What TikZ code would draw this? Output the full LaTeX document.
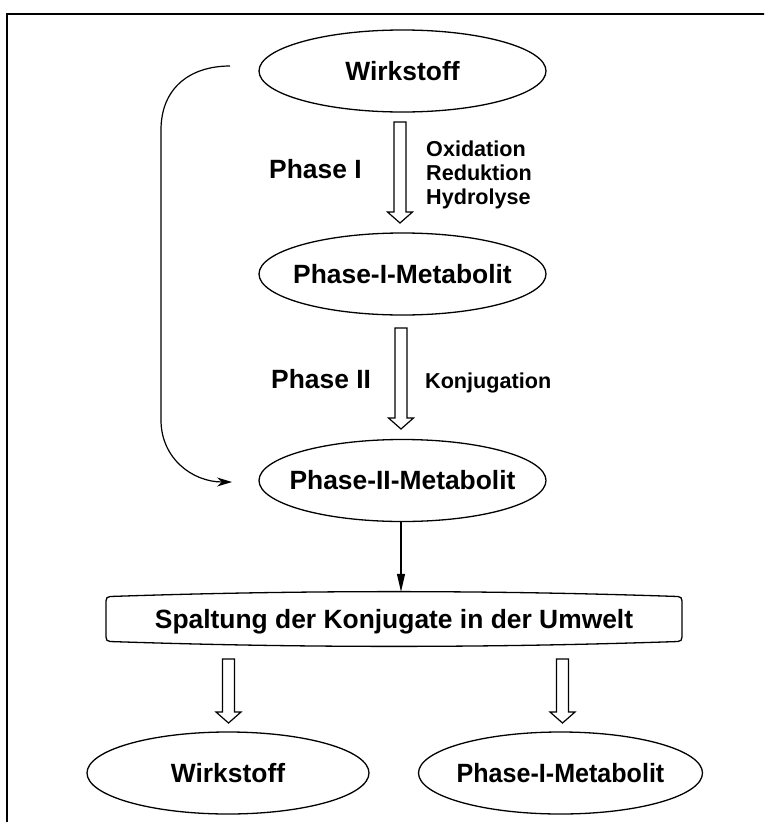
\documentclass[tikz,border=0pt]{standalone}
\usepackage{graphicx}
\usepackage{fontspec}
\setmainfont{Liberation Sans}
\usetikzlibrary{shapes.geometric,arrows.meta,calc}
\tikzset{
  ell/.style={ellipse, draw, line width=1.3pt, minimum width=287pt, minimum height=82pt,
    inner sep=0pt, text height=18pt, text depth=0pt, font=\bfseries\fontsize{26.4}{30}\selectfont},
  bigtxt/.style={font=\bfseries\fontsize{26.4}{30}\selectfont, inner sep=0pt, anchor=base west},
  smalltxt/.style={font=\bfseries\fontsize{21.6}{24}\selectfont, inner sep=0pt, anchor=base west},
  boxtxt/.style={minimum width=576pt, minimum height=54pt, inner sep=0pt, text height=18pt,
    text depth=0pt, font=\bfseries\fontsize{26.4}{30}\selectfont},
  blockline/.style={draw, line width=1.2pt, line join=miter},
  conn/.style={line width=1.2pt},
  frameline/.style={line width=2.6pt}
}
\newcommand\blockarrow[2]{%
  \draw[blockline] let \p1=(#1), \p2=(#2) in
    (\x1-6pt,\y1) -- (\x1+6pt,\y1) -- (\x1+6pt,\y2+11pt) -- (\x1+12.5pt,\y2+11pt)
    -- (\x1,\y2) -- (\x1-12.5pt,\y2+11pt) -- (\x1-6pt,\y2+11pt) -- cycle;}
\begin{document}
\begin{tikzpicture}[x=1pt,y=-1pt]
\useasboundingbox (0,0) rectangle (764,822);
\begin{scope}
  \clip (0,0) rectangle (764,822);
  \draw[frameline] (7,840) -- (7,14) -- (780,14);
\end{scope}

% ellipses
\node[ell] (wirk) at (402.5,71) {\makebox[0pt]{Wirkstoff}};
\node[ell] (meta1) at (402.5,274) {\makebox[0pt]{Phase-I-Metabolit}};
\node[ell] (meta2) at (402.5,480.5) {\makebox[0pt]{Phase-II-Metabolit}};
\node[ell, minimum width=282pt] (wirkb) at (228,773) {\makebox[0pt]{Wirkstoff}};
\node[ell, minimum width=284pt] (meta1b) at (560.5,773) {\makebox[0pt]{\scalebox{0.95}[1]{Phase-I-Metabolit}}};

% environment box
\node[boxtxt] (spalt) at (394,619) {Spaltung der Konjugate in der Umwelt};
\draw[line width=1.3pt] (110,596.5) .. controls (300,590) and (488,590) .. (678,596.5)
  .. controls (681,597) and (682,598) .. (682,601) -- (682,637)
  .. controls (682,640) and (681,641) .. (678,641.5)
  .. controls (488,648) and (300,648) .. (110,641.5)
  .. controls (107,641) and (106,640) .. (106,637) -- (106,601)
  .. controls (106,598) and (107,597) .. (110,596.5) -- cycle;

% labels
\node[bigtxt] (ph1) at (269,178) {Phase I};
\node[smalltxt] (ox) at (426,156) {Oxidation};
\node[smalltxt] (red) at (426,180) {Reduktion};
\node[smalltxt] (hyd) at (426,204) {Hydrolyse};
\node[bigtxt] (ph2) at (271,388) {Phase II};
\node[smalltxt] (konj) at (425,388) {Konjugation};

% hollow block arrows
\coordinate (a1t) at (400,122); \coordinate (a1b) at (400,223);
\coordinate (a2t) at (401,328); \coordinate (a2b) at (401,429);
\coordinate (a3t) at (228.5,659); \coordinate (a3b) at (228.5,723);
\coordinate (a4t) at (562.5,659); \coordinate (a4b) at (562.5,723);
\blockarrow{a1t}{a1b}
\blockarrow{a2t}{a2b}
\blockarrow{a3t}{a3b}
\blockarrow{a4t}{a4b}

% thin arrow
\draw[conn, -{Triangle[length=18pt,width=8pt]}] ([xshift=-1.5pt]meta2.south) -- ([xshift=-1.5pt]meta2.south |- spalt.north);

% bypass curve
\coordinate (cstart) at (230,66);
\coordinate (cend) at (232,482);
\draw[conn, -{Stealth[length=15pt,width=9pt]}] (cstart) .. controls (190,66) and (161,88) .. (161,130)
  -- (161,420) .. controls (161,458) and (192,482) .. (cend);
\end{tikzpicture}
\end{document}
